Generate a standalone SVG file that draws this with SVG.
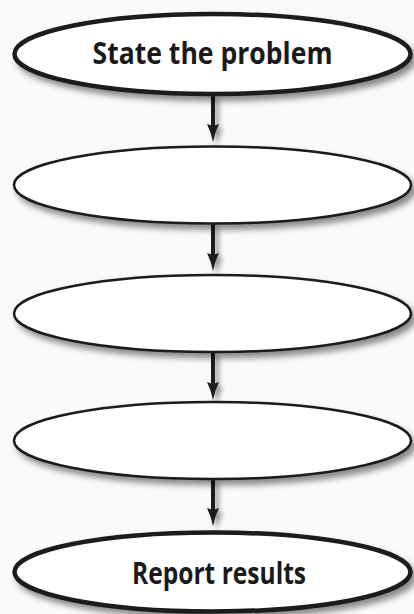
<svg xmlns="http://www.w3.org/2000/svg" width="414" height="614" viewBox="0 0 414 614">
  <defs>
    <filter id="shadow" x="-10%" y="-30%" width="125%" height="170%">
      <feDropShadow dx="4" dy="5" stdDeviation="3" flood-color="#000" flood-opacity="0.45"/>
    </filter>
    <filter id="lineShadow" filterUnits="userSpaceOnUse" x="0" y="0" width="414" height="614">
      <feDropShadow dx="4" dy="4" stdDeviation="2.5" flood-color="#000" flood-opacity="0.4"/>
    </filter>
    <marker id="head" viewBox="0 0 18 12" refX="4" refY="6" markerWidth="18" markerHeight="12" markerUnits="userSpaceOnUse" orient="auto">
      <path d="M0,0 Q8,4 18,6 Q8,8 0,12 L2,6 z" fill="#1c1c1c"/>
    </marker>
    <style>
      .node ellipse { fill: #ffffff; stroke: #1a1a1a; }
      .thin { stroke-width: 2.5; }
      .thick { stroke-width: 4.5; }
      .label { font-family: "Open Sans", "Liberation Sans", sans-serif; font-weight: bold; font-size: 30px; fill: #1a1a1a; text-anchor: middle; }
      .conn line { stroke: #1c1c1c; stroke-width: 4; }
    </style>
  </defs>
  <rect width="414" height="614" fill="#fafafa"/>
  <g id="connectors" filter="url(#lineShadow)" class="conn">
    <line x1="213" y1="95" x2="213" y2="128" marker-end="url(#head)"/>
    <line x1="213" y1="224" x2="213" y2="257" marker-end="url(#head)"/>
    <line x1="213" y1="352" x2="213" y2="386" marker-end="url(#head)"/>
    <line x1="213" y1="479" x2="213" y2="512" marker-end="url(#head)"/>
  </g>
  <g id="n1" class="node">
    <ellipse cx="212.5" cy="54" rx="198" ry="40" class="thick" filter="url(#shadow)"/>
    <text class="label" x="212.5" y="64" textLength="240" lengthAdjust="spacingAndGlyphs">State the problem</text>
  </g>
  <g id="n2" class="node">
    <ellipse cx="212.5" cy="185" rx="198.5" ry="38.5" class="thin" filter="url(#shadow)"/>
  </g>
  <g id="n3" class="node">
    <ellipse cx="212.5" cy="313.5" rx="198.5" ry="38.5" class="thin" filter="url(#shadow)"/>
  </g>
  <g id="n4" class="node">
    <ellipse cx="212.5" cy="440.5" rx="198.5" ry="38.5" class="thin" filter="url(#shadow)"/>
  </g>
  <g id="n5" class="node">
    <ellipse cx="212.5" cy="572" rx="198" ry="39.5" class="thick" filter="url(#shadow)"/>
    <text class="label" x="219" y="584" textLength="174" lengthAdjust="spacingAndGlyphs">Report results</text>
  </g>
</svg>
